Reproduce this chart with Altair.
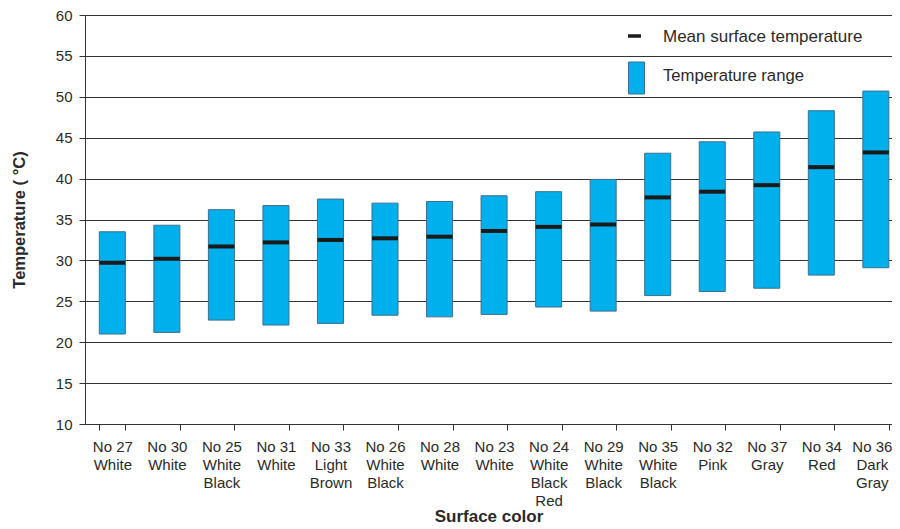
import altair as alt
import pandas as pd

numbers = ["No 27", "No 30", "No 25", "No 31", "No 33", "No 26", "No 28", "No 23",
           "No 24", "No 29", "No 35", "No 32", "No 37", "No 34", "No 36"]
colors = ["White", "White", "White|Black", "White", "Light|Brown", "White|Black", "White",
          "White", "White|Black|Red", "White|Black", "White|Black", "Pink", "Gray", "Red",
          "Dark|Gray"]
range_low = [21.0, 21.2, 22.7, 22.1, 22.3, 23.3, 23.1, 23.4, 24.3, 23.8, 25.7, 26.2, 26.6, 28.2, 29.1]
range_high = [33.5, 34.3, 36.2, 36.7, 37.5, 37.0, 37.2, 37.9, 38.4, 39.9, 43.1, 44.5, 45.7, 48.3, 50.7]
mean_temp = [29.7, 30.2, 31.7, 32.2, 32.5, 32.7, 32.9, 33.6, 34.1, 34.4, 37.7, 38.4, 39.2, 41.4, 43.2]

cats = [f"{n}|{c}" for n, c in zip(numbers, colors)]
df = pd.DataFrame({"cat": cats, "low": range_low, "high": range_high, "mean": mean_temp})

legend_labels = ["Mean surface temperature", "Temperature range"]

FONT = "Liberation Sans"
BLUE = "#00b0ec"
EDGE = "#3d6f8c"
TXT = "#2a2a2a"

last_cat = cats[-1]

x = alt.X("cat:N", sort=cats, title="Surface color",
          scale=alt.Scale(paddingInner=0.523, paddingOuter=0.16, align=0.82),
          axis=alt.Axis(labelExpr="split(datum.label, '|')", labelAngle=0,
                        labelLineHeight=18, labelFontSize=15, labelFont=FONT,
                        labelColor=TXT, labelPadding=9, tickSize=6, tickBand="extent",
                        labelOffset=alt.ExprRef(f"datum.value == '{last_cat}' ? -4 : 0"),
                        tickColor="#333", domainColor="#333", titleFont=FONT,
                        titleFontSize=17, titleFontWeight="bold", titleColor=TXT,
                        titlePadding=0, grid=False, labelBaseline="top"))

y_scale = alt.Scale(domain=[10, 60], nice=False)
y_axis = alt.Axis(values=list(range(10, 61, 5)), title="Temperature ( °C)", titleFont=FONT,
                  titleFontSize=16.5, titleFontWeight="bold", titleColor=TXT,
                  titlePadding=28, labelFont=FONT, labelFontSize=15, labelColor=TXT,
                  labelPadding=7, tickSize=6, tickColor="#333", domainColor="#333",
                  gridColor="#333", gridWidth=1, gridOpacity=1)

base = alt.Chart(df)

bars = base.mark_bar(color=BLUE, stroke=EDGE, strokeWidth=1, opacity=1).encode(
    x=x,
    y=alt.Y("low:Q", scale=y_scale, axis=y_axis),
    y2="high:Q",
)

means = base.mark_tick(color="#1a1a1a", thickness=4, size=26, opacity=1).encode(
    x=x,
    y=alt.Y("mean:Q", scale=y_scale),
)

leg_df = pd.DataFrame({"label": legend_labels})

leg_mean = alt.Chart(leg_df).transform_filter(alt.datum.label == legend_labels[0]).mark_rule(
    color="#1a1a1a", strokeWidth=3.5).encode(
    x=alt.value(543), x2=alt.value(556), y=alt.value(21))
leg_rect = alt.Chart(leg_df).transform_filter(alt.datum.label == legend_labels[1]).mark_rect(
    color=BLUE, stroke=EDGE, strokeWidth=1).encode(
    x=alt.value(543.5), x2=alt.value(559.5), y=alt.value(47), y2=alt.value(79))
leg_text1 = alt.Chart(leg_df).transform_filter(alt.datum.label == legend_labels[0]).mark_text(
    align="left", baseline="middle", font=FONT, fontSize=17, color=TXT).encode(
    x=alt.value(578), y=alt.value(21.5), text="label:N")
leg_text2 = alt.Chart(leg_df).transform_filter(alt.datum.label == legend_labels[1]).mark_text(
    align="left", baseline="middle", font=FONT, fontSize=16.7, color=TXT).encode(
    x=alt.value(578), y=alt.value(60.5), text="label:N")

chart = alt.layer(bars, means, leg_mean, leg_rect, leg_text1, leg_text2).properties(
    width=807, height=409,
    autosize=alt.AutoSizeParams(type="none"),
    padding={"left": 77, "top": 7, "right": 0, "bottom": 105},
).configure_view(stroke=None).configure(background="white")

chart.save("out.html", embed_options={"renderer": "svg", "actions": False})
